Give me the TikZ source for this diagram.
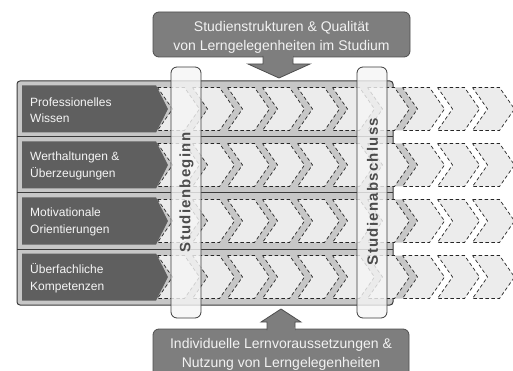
\documentclass[tikz,border=0pt]{standalone}
\usepackage{fontspec}
\setmainfont{Liberation Sans}
\definecolor{rowgray}{HTML}{C7C7C7}
\definecolor{chevlight}{HTML}{ECECEC}
\definecolor{labeldark}{HTML}{5F5F5F}
\definecolor{boxgray}{HTML}{7E7E7E}
\definecolor{edgecol}{HTML}{3A3A3A}
\definecolor{bartextcol}{HTML}{4C4C4C}
\begin{document}
\begin{tikzpicture}[x=1pt,y=-1pt,
  chevshape/.style={fill=chevlight, draw=black!85, line width=0.7pt, dash pattern=on 3.5pt off 2.5pt},
  shadowshape/.style={fill=rowgray},
  labshape/.style={fill=labeldark},
  labtext/.style={anchor=west, align=left, inner sep=0pt, text=white!96!black, font=\fontsize{12}{16.5}\selectfont},
  barshape/.style={draw=edgecol, line width=0.8pt, rounded corners=6pt, fill=white!96!black, fill opacity=0.8},
  bartext/.style={rotate=90, inner sep=0pt, text=bartextcol, font=\bfseries\fontsize{15}{15}\selectfont\addfontfeature{LetterSpace=8.5}},
  bigbox/.style={draw=edgecol!90, line width=0.8pt, fill=boxgray},
  boxtext/.style={align=center, inner sep=0pt, text=white!95!black, font=\fontsize{14}{19}\selectfont},
  sepline/.style={draw=edgecol, line width=1pt}
]
\useasboundingbox (0,0) rectangle (513,371);
\clip (0,0) rectangle (513,371);

% main box
\draw[fill=rowgray, draw=edgecol, line width=1pt, rounded corners=3pt] (17,81) rectangle (393,305);

% chevrons
\foreach \cy in {109,165,221,277}{
  \foreach \k in {0,...,6}{
    \pgfmathsetmacro\xx{165.5+35*\k}
    \path[shadowshape] (\xx,\cy-21.5) -- (\xx+27,\cy-21.5) -- (\xx+42,\cy) -- (\xx+27,\cy+21.5) -- (\xx,\cy+21.5) -- (\xx+15,\cy) -- cycle;
  }
  \foreach \k in {0,...,9}{
    \pgfmathsetmacro\xx{157.5+35*\k}
    \path[chevshape] (\xx,\cy-21.5) -- (\xx+27,\cy-21.5) -- (\xx+42,\cy) -- (\xx+27,\cy+21.5) -- (\xx,\cy+21.5) -- (\xx+15,\cy) -- cycle;
  }
}

% row separators
\draw[sepline] (17,137) -- (393,137);
\draw[sepline] (17,193) -- (393,193);
\draw[sepline] (17,249) -- (393,249);

% left labels
\foreach \cy in {109,165,221,277}{
  \path[labshape] (22,\cy-23.5) -- (156,\cy-23.5) -- (168,\cy) -- (156,\cy+23.5) -- (22,\cy+23.5) -- cycle;
}
\node[labtext] (lab1) at (30,110) {Professionelles\\Wissen};
\node[labtext] (lab2) at (30,166) {Werthaltungen \&\\Überzeugungen};
\node[labtext] (lab3) at (30,222) {Motivationale\\Orientierungen};
\node[labtext] (lab4) at (30,278) {Überfachliche\\Kompetenzen};

% vertical bars
\path[barshape] (171,67) rectangle (201,318);
\path[barshape] (357,67) rectangle (387,318);
\node[bartext] (beginn) at (186.5,192.5) {Studienbeginn};
\node[bartext] (abschluss) at (372.5,191.5) {Studienabschluss};

% top box with arrow
\path[bigbox, rounded corners=6pt] (153,12) rectangle (410,57);
\path[bigbox] (263,56) -- (263,64) -- (248,64) -- (279,78) -- (310,64) -- (293,64) -- (293,56);
\fill[boxgray] (263.5,55) rectangle (292.5,58.6);
\node[boxtext] (topbox) at (281.5,37.5) {Studienstrukturen \& Qualität\\von Lerngelegenheiten im Studium};

% bottom box with arrow
\path[bigbox, rounded corners=6pt] (153,329) rectangle (409,392);
\path[bigbox] (267,330) -- (267,322) -- (261,322) -- (281,309) -- (301,322) -- (295,322) -- (295,330);
\fill[boxgray] (267.5,327.4) rectangle (294.5,331);
\node[boxtext] (bottombox) at (281,354) {Individuelle Lernvoraussetzungen \&\\Nutzung von Lerngelegenheiten};
\end{tikzpicture}
\end{document}
